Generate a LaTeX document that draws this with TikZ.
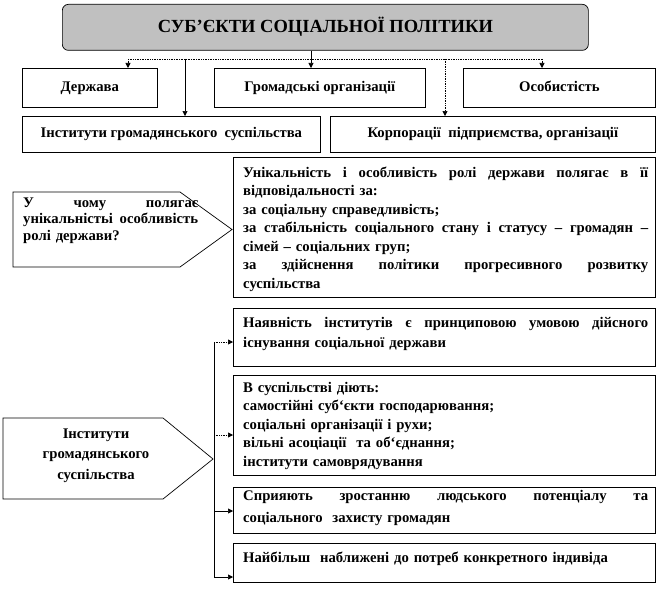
\documentclass[tikz,border=0pt]{standalone}
\usepackage{fontspec}
\setmainfont{Liberation Serif}
\usetikzlibrary{arrows.meta}
\definecolor{titlegray}{HTML}{C0C0C0}
\newcommand\jl[2]{\leavevmode\hbox to #1{\spaceskip=0.3em plus 20em\relax #2}}
\newcommand\fs[1]{\fontsize{14.7}{#1}\selectfont\bfseries}
\begin{document}
\begin{tikzpicture}[x=1pt,y=-1pt,
  box/.style={draw=black, line width=0.7pt, inner sep=0pt, anchor=north west, font=\fs{17},
              text height=10pt, text depth=3.5pt},
  boxline/.style={draw=black, line width=0.7pt},
  txt/.style={inner sep=0pt, anchor=base west, align=left, text width=405pt},
  conn/.style={line width=0.6pt},
  dotline/.style={densely dotted, line width=0.7pt},
  arr/.style={-{Triangle[length=5pt,width=5pt]}}]
\useasboundingbox (0,0) rectangle (659,594);

% title and top rows
\node[box, minimum width=526pt, minimum height=46pt, rounded corners=6pt, fill=titlegray,
      font=\fontsize{18.5}{20}\selectfont\bfseries, text height=12pt, text depth=1pt] (title) at (62,4) {СУБ’ЄКТИ СОЦІАЛЬНОЇ ПОЛІТИКИ};
\node[box, minimum width=135pt, minimum height=39pt] (derzh) at (22,68) {Держава};
\node[box, minimum width=211pt, minimum height=39pt] (hrom) at (214,68) {Громадські організації};
\node[box, minimum width=192pt, minimum height=39pt] (osob) at (463,68) {Особистість};
\node[box, minimum width=298pt, minimum height=36pt] (inst) at (22,116) {Інститути громадянського\ \ суспільства};
\node[box, minimum width=325pt, minimum height=36pt] (korp) at (330,116) {Корпорації\ \ підприємства, організації};

\coordinate (jc) at (311,59);
\coordinate (jl) at (128,59);
\coordinate (jr) at (542,59);
\coordinate (ja) at (185,59);
\coordinate (jb) at (445,59);
\draw[conn,arr] (title.south -| jc) -- (jc |- hrom.north);
\draw[dotline] (jl) -- (jr);
\draw[dotline,arr] (jl) -- (jl |- derzh.north);
\draw[dotline,arr] (jr) -- (jr |- osob.north);
\draw[conn,arr] (ja) -- (ja |- inst.north);
\draw[dotline,arr] (jb) -- (jb |- korp.north);

% question block
\draw[boxline] (13,192) -- (180,192) -- (232,229.5) -- (180,267) -- (13,267) -- cycle;
\coordinate (h1tip) at (232,229.5);
\node[txt, text width=175pt, font=\fs{16.5}] (h1txt) at (23,207)
  {\jl{175pt}{У чому полягає}\\ \jl{175pt}{унікальністьі особливість}\\ ролі держави?};
\node[box, minimum width=422pt, minimum height=140pt] (big) at (233,157) {};
\node[txt, font=\fs{18.5}] (bigtxt) at (243,177)
  {\jl{405pt}{Унікальність і особливість ролі держави полягає в її}\\
   відповідальності за:\\
   за соціальну справедливість;\\
   \jl{405pt}{за стабільність соціального стану і статусу – громадян –}\\
   сімей – соціальних груп;\\
   \jl{405pt}{за здійснення політики прогресивного розвитку}\\
   суспільства};

% institutions block
\draw[boxline] (3,418) -- (163,418) -- (213,459) -- (163,499) -- (3,499) -- cycle;
\coordinate (h2tip) at (213,459);
\node[inner sep=0pt, anchor=base, align=center, text width=160pt, font=\fs{20.5}] (h2txt) at (96,438)
  {Інститути\\ громадянського\\ суспільства};

\node[box, minimum width=422pt, minimum height=58pt] (b1) at (233,308) {};
\node[box, minimum width=422pt, minimum height=100pt] (b2) at (233,375) {};
\node[box, minimum width=422pt, minimum height=46pt] (b3) at (233,487) {};
\node[box, minimum width=422pt, minimum height=39pt] (b4) at (233,543) {};

\node[txt, font=\fs{20}] (b1txt) at (243,327)
  {\jl{405pt}{Наявність інститутів є принциповою умовою дійсного}\\ існування соціальної держави};
\node[txt, font=\fs{18.5}] (b2txt) at (243,392)
  {В суспільстві діють:\\ самостійні суб`єкти господарювання;\\ соціальні організації і рухи;\\ вільні асоціації\ \ та об`єднання;\\ інститути самоврядування};
\node[txt, font=\fs{22}] (b3txt) at (243,500)
  {\jl{405pt}{Сприяють зростанню людського потенціалу та}\\ соціального\ \ захисту громадян};
\node[txt, font=\fs{20}] (b4txt) at (243,562)
  {Найбільш\ \ наближені до потреб конкретного індивіда};

\coordinate (s1) at (214,342);
\coordinate (s2) at (214,435);
\coordinate (s3) at (214,511);
\coordinate (s4) at (214,577);
\draw[conn] (s1) -- (s4);
\draw[dotline,arr] (s1) -- (s1 -| b1.west);
\draw[dotline,arr] (s2) -- (s2 -| b2.west);
\draw[conn,arr] (s3) -- (s3 -| b3.west);
\draw[conn,arr] (s4) -- (s4 -| b4.west);
\end{tikzpicture}
\end{document}
